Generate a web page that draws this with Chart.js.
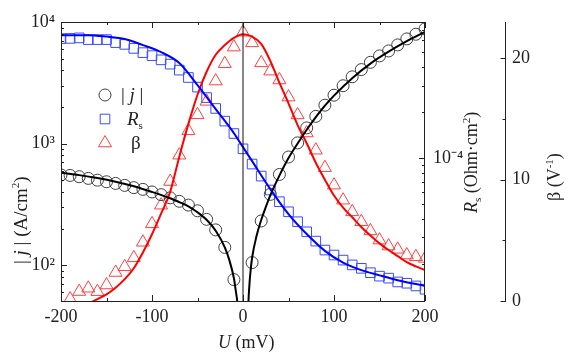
<!DOCTYPE html>
<html>
<head>
<meta charset="utf-8">
<script src="https://cdn.jsdelivr.net/npm/chart.js@4.4.1/dist/chart.umd.min.js"></script>
<style>
  html, body { margin: 0; padding: 0; background: #fff; }
</style>
</head>
<body>
<canvas id="chart" width="569" height="360"></canvas>
<script>
// |j| (A/cm2), measured points
const jU = [-200,-190,-180,-170,-160,-150,-140,-130,-120,-110,-100,-90,-80,-70,-60,-50,-40,-30,-20,-10,
            10,20,30,40,50,60,70,80,90,100,110,120,130,140,150,160,170,180,190,200];
const jVal = [552,547,534,517,500,485,470,453,434,420,400,380,358,335,312,280,238,195,140,76,
              105,231,382,557,775,1013,1345,1675,2070,2500,2990,3540,4060,4660,5260,5780,6480,7260,7930,8770];
// |j| fit (two branches, gap at 0)
const jFitU = [-200,-180,-160,-140,-120,-100,-80,-70,-60,-50,-40,-30,-20,-15,-10,-8,-6,-5,0,
               5,6,7,8,10,15,20,25,30,40,50,60,70,80,90,100,120,140,160,180,200];
const jFitV = [575,550,520,485,445,400,355,330,305,272,236,192,140,110,78,62,48,38,null,
               25,50,68,85,115,175,235,300,375,545,760,1000,1300,1650,2050,2480,3450,4550,5700,6950,8300];

// Rs (Ohm*cm2)
const rsU = [-200,-190,-180,-170,-160,-150,-140,-130,-120,-110,-100,-90,-80,-70,-60,-50,-40,-30,-20,-10,0,
             10,20,30,40,50,60,70,80,90,100,110,120,130,140,150,160,170,180,190,200];
const rsVal = [6.11e-4,6.13e-4,6.18e-4,6.02e-4,6.02e-4,6.02e-4,5.75e-4,5.60e-4,5.27e-4,4.94e-4,
               4.72e-4,4.43e-4,4.15e-4,3.79e-4,3.39e-4,2.93e-4,2.50e-4,2.12e-4,1.75e-4,1.45e-4,1.15e-4,
               9.13e-5,7.61e-5,6.16e-5,5.16e-5,4.43e-5,3.81e-5,3.27e-5,2.84e-5,2.48e-5,2.30e-5,
               2.13e-5,1.98e-5,1.88e-5,1.76e-5,1.67e-5,1.62e-5,1.53e-5,1.50e-5,1.44e-5,1.37e-5];
const rsFitU = [-200,-170,-150,-130,-110,-90,-70,-50,-30,-10,0,10,30,50,70,90,110,130,150,170,200];
const rsFitV = [6.44e-4,6.44e-4,6.3e-4,6.07e-4,5.54e-4,4.98e-4,4.22e-4,3.02e-4,2.10e-4,1.46e-4,1.18e-4,
                9.55e-5,6.25e-5,4.28e-5,3.16e-5,2.45e-5,2.05e-5,1.83e-5,1.69e-5,1.57e-5,1.44e-5];

// beta (1/V)
const betaU = [-190,-180,-170,-160,-150,-140,-130,-120,-110,-100,-90,-80,-70,-60,-50,-40,-30,-20,-10,0,
               10,20,30,40,50,60,70,80,90,100,110,120,130,140,150,160,170,180,190,200];
const betaVal = [0.16,0.78,1.05,0.77,1.32,2.35,2.82,3.56,4.84,6.36,7.90,9.85,12.02,14.03,15.35,16.46,18.13,19.56,20.93,22.16,
                 21.28,19.63,18.95,18.22,16.81,15.34,13.85,12.43,10.99,9.55,8.31,7.35,6.53,5.78,5.02,4.53,4.26,3.79,3.65,3.51];
const betaFitU = [-170,-160,-150,-140,-130,-120,-110,-100,-90,-80,-70,-60,-50,-40,-30,-20,-10,0,
                  10,20,30,40,50,60,70,80,90,100,110,120,130,140,150,160,170,180,190,200];
const betaFitV = [-0.2,0.15,0.55,1.1,1.8,2.7,4.0,5.5,7.2,9.0,11.9,14.6,17.0,18.9,20.3,21.1,21.7,22.0,
                  21.8,21.2,19.8,18.0,16.3,14.5,13.0,11.4,10.0,8.7,7.7,6.9,6.1,5.4,4.75,4.2,3.7,3.2,2.85,2.55];

// zero line
const zeroU = [0, 0];

// axes
const xRange = [-200, 200];
const xTicks = [-200, -100, 0, 100, 200];
const xTickLabels = ['-200', '-100', '0', '100', '200'];
const xMinor = [-150, -50, 50, 150];
const jRange = [50.7, 10000];
const jTicks = [100, 1000, 10000];
const jTickLabels = ['10²', '10³', '10⁴'];
const rsRange = [1.146e-5, 7.86e-4];
const rsTicks = [1e-4];
const rsTickLabels = ['10⁻⁴'];
const betaRange = [0, 23];
const betaTicks = [0, 10, 20];
const betaTickLabels = ['0', '10', '20'];
const betaMinor = [5, 15];

const ink = '#222';
const SERIF = '"Liberation Serif", "Times New Roman", serif';
const tickFont = { family: SERIF, size: 18 };

const pts = (xs, ys) => xs.map((x, i) => ({ x: x, y: ys[i] }));

function drawRuns(ctx, parts, x, y) {
  for (const [t, style, size, dy] of parts) {
    ctx.font = style + ' ' + size + 'px ' + SERIF;
    ctx.fillText(t, x, y + dy);
    x += ctx.measureText(t).width;
  }
  return x;
}

function marker(ctx, style, x, y, r) {
  ctx.beginPath();
  if (style === 'circle') {
    ctx.arc(x, y, r, 0, Math.PI * 2);
  } else if (style === 'rect') {
    const s = r * Math.SQRT1_2;
    ctx.rect(x - s, y - s, 2 * s, 2 * s);
  } else {
    for (let k = 0; k < 3; k++) {
      const a = k * 2 * Math.PI / 3;
      const px = x + Math.sin(a) * r, py = y - Math.cos(a) * r;
      k ? ctx.lineTo(px, py) : ctx.moveTo(px, py);
    }
    ctx.closePath();
  }
  ctx.stroke();
}

const decorations = {
  id: 'decorations',
  afterDraw(chart) {
    const { ctx, chartArea: a, scales } = chart;
    const sx = scales.x, sj = scales.yJ, sr = scales.yR, sb = scales.yB;
    ctx.save();
    ctx.strokeStyle = ink;
    ctx.lineWidth = 1;
    ctx.strokeRect(a.left + 0.5, a.top + 0.5, a.right - a.left - 1, a.bottom - a.top);

    const line = (x1, y1, x2, y2) => {
      ctx.beginPath(); ctx.moveTo(x1, y1); ctx.lineTo(x2, y2); ctx.stroke();
    };
    // x ticks, bottom and top, pointing inward
    xTicks.concat(xMinor).forEach((v, i) => {
      const len = i < xTicks.length ? 6 : 3;
      const px = Math.round(sx.getPixelForValue(v)) + 0.5;
      line(px, a.bottom, px, a.bottom - len);
      line(px, a.top, px, a.top + len);
    });
    // log ticks
    const logTicks = (scale, lo, hi, x0, dir) => {
      for (let d = Math.floor(Math.log10(lo)); d <= Math.ceil(Math.log10(hi)); d++) {
        for (let m = 1; m <= 9; m++) {
          const v = m * Math.pow(10, d);
          if (v < lo || v > hi) continue;
          const py = Math.round(scale.getPixelForValue(v)) + 0.5;
          line(x0, py, x0 + dir * (m === 1 ? 6 : 3), py);
        }
      }
    };
    logTicks(sj, jRange[0], jRange[1], a.left, 1);
    logTicks(sr, rsRange[0], rsRange[1], a.right, -1);
    // beta ticks, pointing left
    const bx = sb.left + 0.5;
    betaTicks.concat(betaMinor).forEach((v, i) => {
      const py = Math.round(sb.getPixelForValue(v)) + 0.5;
      line(bx, py, bx - (i < betaTicks.length ? 5 : 3), py);
    });

    // titles
    ctx.fillStyle = ink;
    ctx.textBaseline = 'alphabetic';
    drawRuns(ctx, [['U', 'italic', 18, 0], [' (mV)', 'normal', 18, 0]], 218, 348);

    ctx.save();
    ctx.translate(27, 264);
    ctx.rotate(-Math.PI / 2);
    drawRuns(ctx, [['| ', 'normal', 19, 0], ['j', 'italic', 19, 0], [' |', 'normal', 19, 0],
                   [' (A/cm', 'normal', 19, 0], ['2', 'normal', 11, -8], [')', 'normal', 19, 0]], 0, 0);
    ctx.restore();

    ctx.save();
    ctx.translate(477, 213);
    ctx.rotate(-Math.PI / 2);
    drawRuns(ctx, [['R', 'italic', 18, 0], ['s', 'normal', 11, 4], [' (Ohm·cm', 'normal', 18, 0],
                   ['2', 'normal', 11, -7], [')', 'normal', 18, 0]], 0, 0);
    ctx.restore();

    ctx.save();
    ctx.translate(560, 201);
    ctx.rotate(-Math.PI / 2);
    drawRuns(ctx, [['β (V', 'normal', 18, 0], ['-1', 'normal', 11, -7], [')', 'normal', 18, 0]], 0, 0);
    ctx.restore();

    // legend
    ctx.lineWidth = 1;
    ctx.strokeStyle = '#404040';
    marker(ctx, 'circle', 105, 95, 6);
    ctx.strokeStyle = '#3a4cff';
    marker(ctx, 'rect', 105, 119, 6.8);
    ctx.strokeStyle = '#ff4040';
    marker(ctx, 'triangle', 105, 143, 7.5);
    drawRuns(ctx, [['| ', 'normal', 19, 0], ['j', 'italic', 19, 0], [' |', 'normal', 19, 0]], 121, 101);
    drawRuns(ctx, [['R', 'italic', 19, 0], ['s', 'normal', 11, 4]], 127, 125);
    drawRuns(ctx, [['β', 'normal', 19, 0]], 131, 149);
    ctx.restore();
  }
};

const fitStyle = (color) => ({
  borderColor: color, borderWidth: 2, pointRadius: 0, showLine: true,
  cubicInterpolationMode: 'monotone', spanGaps: false, clip: 0, fill: false
});
const markStyle = (color, style, r) => ({
  borderColor: color, backgroundColor: 'rgba(0,0,0,0)', borderWidth: 1,
  pointStyle: style, pointRadius: r, pointBorderWidth: 1, showLine: false, clip: 0
});

new Chart(document.getElementById('chart'), {
  type: 'line',
  data: {
    datasets: [
      Object.assign({ data: pts(zeroU, jRange), yAxisID: 'yJ' },
        { borderColor: '#111', borderWidth: 1, pointRadius: 0, clip: 0, tension: 0 }),
      Object.assign({ data: pts(jFitU, jFitV), yAxisID: 'yJ' }, fitStyle('#000')),
      Object.assign({ data: pts(rsFitU, rsFitV), yAxisID: 'yR' }, fitStyle('#0000ff')),
      Object.assign({ data: pts(betaFitU, betaFitV), yAxisID: 'yB' }, fitStyle('#ff0000')),
      Object.assign({ data: pts(jU, jVal), yAxisID: 'yJ' }, markStyle('#404040', 'circle', 6)),
      Object.assign({ data: pts(rsU, rsVal), yAxisID: 'yR' }, markStyle('#3a4cff', 'rect', 6.8)),
      Object.assign({ data: pts(betaU, betaVal), yAxisID: 'yB' }, markStyle('#ff4040', 'triangle', 7.5))
    ]
  },
  options: {
    responsive: false,
    animation: false,
    devicePixelRatio: 1,
    layout: { padding: { top: 22, left: 0, right: 0, bottom: 0 } },
    plugins: { legend: { display: false }, tooltip: { enabled: false } },
    scales: {
      x: {
        type: 'linear', position: 'bottom', min: xRange[0], max: xRange[1],
        afterBuildTicks: s => { s.ticks = xTicks.map(v => ({ value: v })); },
        afterFit: s => { s.height = 59; },
        grid: { display: false, drawTicks: false }, border: { display: false },
        ticks: { font: tickFont, color: ink, padding: 5, autoSkip: false, maxRotation: 0,
                 callback: (v, i) => xTickLabels[i] }
      },
      yJ: {
        type: 'logarithmic', position: 'left', min: jRange[0], max: jRange[1],
        afterBuildTicks: s => { s.ticks = jTicks.map(v => ({ value: v })); },
        afterFit: s => { s.width = 61; },
        grid: { display: false, drawTicks: false }, border: { display: false },
        ticks: { font: tickFont, color: ink, padding: 6, autoSkip: false,
                 callback: (v, i) => jTickLabels[i] }
      },
      yR: {
        type: 'logarithmic', position: 'right', weight: 0, min: rsRange[0], max: rsRange[1],
        afterBuildTicks: s => { s.ticks = rsTicks.map(v => ({ value: v })); },
        afterFit: s => { s.width = 80; },
        grid: { display: false, drawTicks: false }, border: { display: false },
        ticks: { font: tickFont, color: ink, padding: 8, autoSkip: false,
                 callback: (v, i) => rsTickLabels[i] }
      },
      yB: {
        type: 'linear', position: 'right', weight: 1, min: betaRange[0], max: betaRange[1],
        afterBuildTicks: s => { s.ticks = betaTicks.map(v => ({ value: v })); },
        afterFit: s => { s.width = 64; },
        grid: { display: false, drawTicks: false },
        border: { display: true, color: ink, width: 1 },
        ticks: { font: tickFont, color: ink, padding: 7, autoSkip: false,
                 callback: (v, i) => betaTickLabels[i] }
      }
    }
  },
  plugins: [decorations]
});
</script>
</body>
</html>
